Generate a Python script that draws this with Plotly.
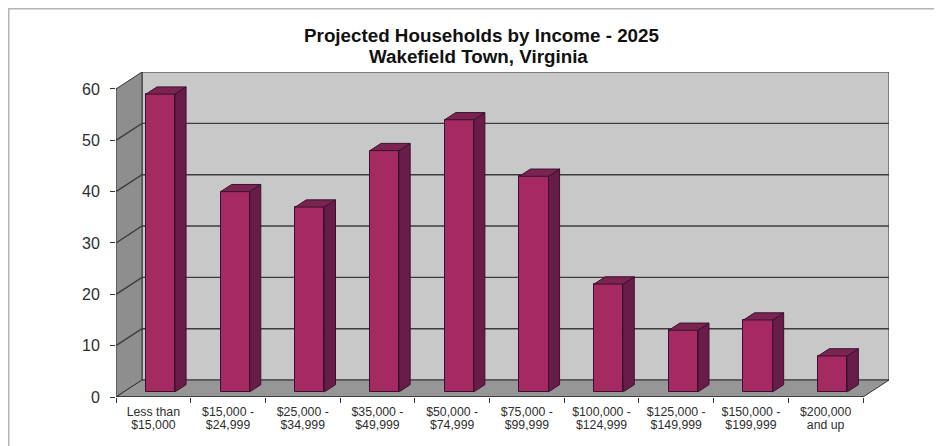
import plotly.graph_objects as go

categories = ["Less than<br>$15,000", "$15,000 -<br>$24,999", "$25,000 -<br>$34,999",
              "$35,000 -<br>$49,999", "$50,000 -<br>$74,999", "$75,000 -<br>$99,999",
              "$100,000 -<br>$124,999", "$125,000 -<br>$149,999", "$150,000 -<br>$199,999",
              "$200,000<br>and up"]
households = [58, 39, 36, 47, 53, 42, 21, 12, 14, 7]
y_ticks = [0, 10, 20, 30, 40, 50, 60]
title_line_1 = "Projected Households by Income - 2025"
title_line_2 = "Wakefield Town, Virginia"

PAGE = 8                   # the page's own body margin
W, H = 942 - PAGE, 446 - PAGE
X0, X1 = 116.0 - PAGE, 863.0 - PAGE   # front axis, figure pixels
Y0, Y60 = 397.5 - PAGE, 89.0 - PAGE   # value 0 and 60, figure pixels
TOP = 72.0 - PAGE
DX_PX, DY_PX = 26.0, 17.0  # depth of the box
N = len(households)
CAT = (X1 - X0) / N
UNIT = (Y0 - Y60) / 60
WALL_DX, WALL_DY = DX_PX / CAT, DY_PX / UNIT
BAR_OFF_X, BAR_OFF_Y = 0.095, 1.0     # bar front plane, relative to the front axis
BAR_W = 0.39
BAR_DX, BAR_DY = 0.148, 1.4           # bar depth
x_max = N + WALL_DX
y_max = 60 + (Y60 - TOP) / UNIT

WALL = "#c8c8c8"; SIDE = "#8e8e8e"; FLOOR = "#969696"; EDGE = "#333333"
FRONT = "#a62a62"; BAR_SIDE = "#6a1c48"; BAR_TOP = "#7a2450"; BAR_EDGE = "#3a1030"
FRAME = "#b4b4b4"; TEXT = "#2e2e2e"


def poly(xs, ys, fill, color=EDGE, width=1):
    path = "M " + " L ".join(f"{a},{b}" for a, b in zip(xs, ys)) + " Z"
    return dict(type="path", path=path, xref="x", yref="y", layer="below",
                fillcolor=fill, line=dict(color=color, width=width))


shapes = [
    poly([WALL_DX, x_max, x_max, WALL_DX], [WALL_DY, WALL_DY, y_max, y_max], WALL),
    poly([0, WALL_DX, WALL_DX, 0], [0, WALL_DY, y_max, 60], SIDE),
    poly([0, N, x_max, WALL_DX], [0, 0, WALL_DY, WALL_DY], FLOOR),
    dict(type="line", xref="x", yref="y", x0=0, x1=N, y0=0, y1=0, layer="below",
         line=dict(color=EDGE, width=1.6)),
    dict(type="line", xref="paper", yref="paper", x0=-X0 / (x_max * CAT), x1=1 + 60,
         y0=1 + TOP / (Y0 - TOP), y1=1 + TOP / (Y0 - TOP), line=dict(color=FRAME, width=3)),
    dict(type="line", xref="paper", yref="paper", x0=-X0 / (x_max * CAT), x1=-X0 / (x_max * CAT),
         y0=-60, y1=1 + TOP / (Y0 - TOP), line=dict(color=FRAME, width=3)),
]
for v in y_ticks[1:-1]:
    g = v + WALL_DY
    shapes.append(dict(type="path", path=f"M 0,{v} L {WALL_DX},{g} L {x_max},{g}", xref="x", yref="y",
                       layer="below", line=dict(color="#3c3c3c", width=1.4)))

fig = go.Figure()
centers = [i + 0.5 + BAR_OFF_X for i in range(N)]
fig.add_trace(go.Bar(x=centers, y=households, base=BAR_OFF_Y, width=BAR_W, marker=dict(
    color=FRONT, line=dict(color=BAR_EDGE, width=1)), hoverinfo="y", showlegend=False))

for c, v in zip(centers, households):
    l, r = c - BAR_W / 2, c + BAR_W / 2
    b, t = BAR_OFF_Y, BAR_OFF_Y + v
    fig.add_trace(go.Scatter(x=[r, r + BAR_DX, r + BAR_DX, r, r], y=[b, b + BAR_DY, t + BAR_DY, t, b],
                             mode="lines", fill="toself", fillcolor=BAR_SIDE,
                             line=dict(color=BAR_EDGE, width=1), hoverinfo="skip", showlegend=False))
    fig.add_trace(go.Scatter(x=[l, r, r + BAR_DX, l + BAR_DX, l], y=[t, t, t + BAR_DY, t + BAR_DY, t],
                             mode="lines", fill="toself", fillcolor=BAR_TOP,
                             line=dict(color=BAR_EDGE, width=1), hoverinfo="skip", showlegend=False))

TITLE_SIZE = 18.8
# tick font sets the 13 px line spacing; the glyphs themselves are wider, as in the reference
tick_text = ["<br>".join(f"<span style='font-size:12.3px'>{part}</span>" for part in c.split("<br>"))
             for c in categories]
fig.update_layout(
    width=W, height=H, autosize=False, paper_bgcolor="white", plot_bgcolor="rgba(0,0,0,0)",
    margin=dict(l=X0, r=W - (X0 + x_max * CAT), t=TOP, b=H - Y0, pad=0),
    font=dict(family="Liberation Sans, Arial, sans-serif", color=TEXT),
    title=dict(text=f"<b>{title_line_1}</b>", x=(481.5 - PAGE) / W, xanchor="center",
               y=1 - (35 - PAGE) / H, yanchor="middle", font=dict(size=TITLE_SIZE, color="#111111")),
    annotations=[dict(text=f"<b>{title_line_2}</b>", xref="paper", yref="paper", showarrow=False,
                      x=(478.5 - PAGE - X0) / (x_max * CAT), xanchor="center",
                      y=1 + (TOP - (56.5 - PAGE)) / (Y0 - TOP), yanchor="middle",
                      font=dict(size=TITLE_SIZE, color="#111111"))],
    shapes=shapes, bargap=0,
    xaxis=dict(range=[0, x_max], tickmode="array", tickvals=[i + 0.5 for i in range(N)], ticktext=tick_text,
               ticks="", showgrid=False, zeroline=False, showline=False, tickangle=0,
               tickfont=dict(size=10), ticklabelstandoff=8,
               minor=dict(tickmode="array", tickvals=list(range(N + 1)), ticks="outside", ticklen=5,
                          tickcolor=EDGE, showgrid=False)),
    yaxis=dict(range=[0, y_max], tickmode="array", tickvals=y_ticks, ticks="outside", ticklen=5,
               tickcolor=EDGE, showgrid=False, zeroline=False, showline=False,
               tickfont=dict(size=16), ticklabelstandoff=7),
)
fig.write_html("out.html")
